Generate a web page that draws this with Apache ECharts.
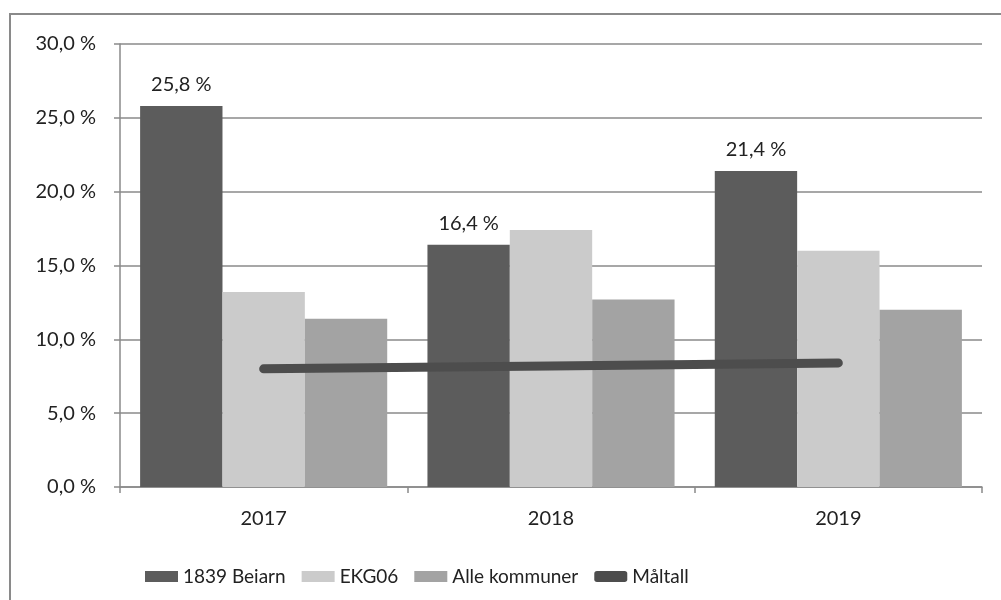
<!DOCTYPE html>
<html>
<head>
<meta charset="utf-8">
<script src="https://cdn.jsdelivr.net/npm/echarts@6/dist/echarts.min.js"></script>
<style>
  html, body { margin: 0; padding: 0; background: #fff; }
  #chart { width: 1001px; height: 600px; }
</style>
</head>
<body>
<div id="chart"></div>
<script>
// Share of population by year, three areas plus the target level
const years = ['2017', '2018', '2019'];
const beiarn = [25.8, 16.4, 21.4];
const ekg06 = [13.2, 17.4, 16.0];
const alleKommuner = [11.4, 12.7, 12.0];
const maltall = [8.0, 8.2, 8.4];
const seriesNames = ['1839 Beiarn', 'EKG06', 'Alle kommuner', 'Måltall'];

const pct = v => v.toFixed(1).replace('.', ',') + ' %';
const FONT = 'Lato, "Open Sans", sans-serif';

const chart = echarts.init(document.getElementById('chart'), null, { renderer: 'canvas' });

chart.setOption({
  animation: false,
  backgroundColor: '#ffffff',
  textStyle: { fontFamily: FONT },
  graphic: [{
    type: 'rect',
    shape: { x: 10, y: 14, width: 1010, height: 600 },
    style: { fill: 'none', stroke: '#8a8a8a', lineWidth: 2 },
    z: -1
  }],
  grid: { left: 120, right: 19, top: 44, bottom: 113 },
  legend: {
    left: 140,
    top: 562,
    itemWidth: 33,
    itemHeight: 11,
    itemGap: 16,
    textStyle: { fontFamily: FONT, fontSize: 19, color: '#222' },
    data: [
      { name: seriesNames[0], icon: 'rect' },
      { name: seriesNames[1], icon: 'rect' },
      { name: seriesNames[2], icon: 'rect' },
      { name: seriesNames[3], icon: 'roundRect' }
    ]
  },
  xAxis: {
    type: 'category',
    data: years,
    axisLine: { lineStyle: { color: '#8a8a8a', width: 1.5 } },
    axisTick: { show: true, length: 6, lineStyle: { color: '#8a8a8a', width: 1.5 } },
    axisLabel: { margin: 22, fontSize: 20, color: '#222', fontFamily: FONT }
  },
  yAxis: {
    type: 'value',
    min: 0,
    max: 30,
    interval: 5,
    axisLine: { show: true, lineStyle: { color: '#8a8a8a', width: 1.5 } },
    axisTick: { show: true, length: 6, lineStyle: { color: '#8a8a8a', width: 1.5 } },
    splitLine: { lineStyle: { color: '#8a8a8a', width: 1.5 } },
    axisLabel: { margin: 24, fontSize: 20, color: '#222', fontFamily: FONT, formatter: pct }
  },
  series: [
    {
      name: seriesNames[0], type: 'bar', data: beiarn,
      barGap: '0%', barCategoryGap: '14%',
      itemStyle: { color: '#5c5c5c' },
      label: { show: true, position: 'top', distance: 11, fontSize: 20, color: '#222',
               fontFamily: FONT, formatter: p => pct(p.value) }
    },
    {
      name: seriesNames[1], type: 'bar', data: ekg06,
      barGap: '0%', barCategoryGap: '14%',
      itemStyle: { color: '#cbcbcb' }
    },
    {
      name: seriesNames[2], type: 'bar', data: alleKommuner,
      barGap: '0%', barCategoryGap: '14%',
      itemStyle: { color: '#a3a3a3' }
    },
    {
      name: seriesNames[3], type: 'line', data: maltall,
      symbol: 'none', z: 5,
      lineStyle: { color: '#4d4d4d', width: 9, cap: 'round' },
      itemStyle: { color: '#4d4d4d' }
    }
  ]
});
</script>
</body>
</html>
